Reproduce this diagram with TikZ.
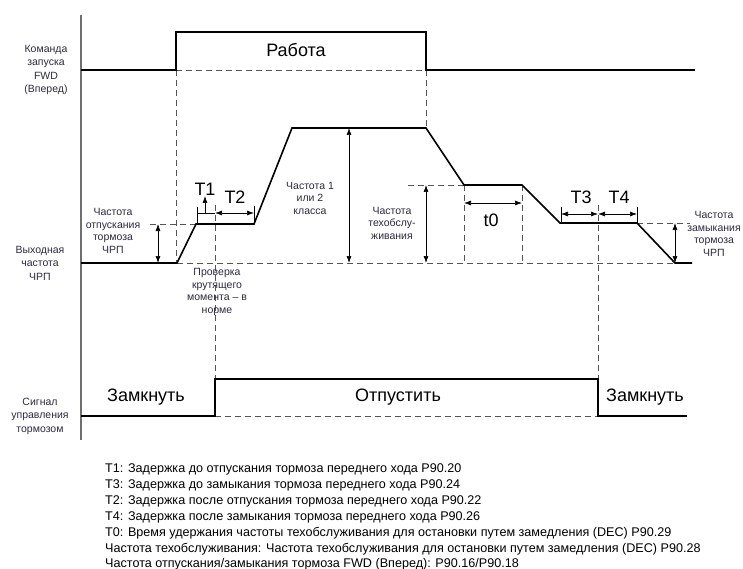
\documentclass[tikz,border=0pt]{standalone}
\usepackage{fontspec}
\setmainfont{Liberation Sans}
\usetikzlibrary{arrows.meta}
\definecolor{dashgray}{HTML}{555555}
\definecolor{axisgray}{HTML}{707070}
\definecolor{labelc}{HTML}{2E2A40}
\tikzset{
 sig/.style={line width=1.6pt, black, line join=miter},
 guide/.style={dashgray, line width=0.8pt, dash pattern=on 6pt off 4pt},
 axisline/.style={axisgray, line width=1.2pt},
 tick/.style={black, line width=0.7pt},
 dim/.style={black, line width=0.7pt, {Latex[length=7pt,width=5pt]}-{Latex[length=7pt,width=5pt]}},
 lbl/.style={font=\fontsize{10.5}{13.5}\selectfont, align=center, text=labelc, inner sep=0},
 slbl/.style={font=\fontsize{10.5}{12.5}\selectfont, align=center, text=labelc, inner sep=0},
 big/.style={font=\fontsize{18}{20}\selectfont, inner sep=0},
 note/.style={font=\fontsize{12.6}{14}\selectfont, anchor=base west, inner sep=0},
}
\begin{document}
\begin{tikzpicture}[x=1pt,y=-1pt]
\useasboundingbox (0,0) rectangle (743,569);
\fill[white] (0,0) rectangle (743,569);

% axis
\coordinate (axT) at (81,15);
\coordinate (axB) at (81,440);
\draw[axisline] (axT) -- (axB);

% guides (drawn first)
\draw[guide] (176,70) -- (426,70);
\draw[guide] (176,70) -- (176,263);
\draw[guide] (426,70) -- (426,128);
\draw[guide] (177,263) -- (675,263);
\draw[guide] (150,224) -- (196,224);
\draw[guide] (408,185) -- (464,185);
\draw[guide] (464,185) -- (464,263);
\draw[guide] (522,185) -- (522,263);
\draw[guide] (637,223) -- (690,223);
\draw[guide] (215,205) -- (215,379);
\draw[guide] (598,205) -- (598,379);
\draw[guide] (215,416) -- (598,416);

% FWD command
\draw[sig] (81,70) -- (176,70) -- (176,32) -- (426,32) -- (426,70) -- (695,70);
\node[big] (run) at (296,50) {Работа};

% output frequency
\draw[sig] (81,263) -- (177,263) -- (196,224) -- (254,224) -- (292,128) -- (426,128)
  -- (464,185) -- (522,185) -- (560,223) -- (637,223) -- (675,263) -- (692,263);

% T1 / T2
\draw[tick] (197,207) -- (197,224);
\draw[tick] (197,213) -- (215,213);
\draw[tick, -{Latex[length=7pt,width=5pt]}] (205,213) -- (205,196);
\draw[dim] (215,213) -- (254,213);
\draw[tick] (254,206) -- (254,224);
\node[big] (t1) at (205,189) {T1};
\node[big] (t2) at (235,197) {T2};

% T3 / T4
\draw[tick] (561,207) -- (561,223);
\draw[tick] (637,207) -- (637,223);
\draw[dim] (561,214) -- (598,214);
\draw[dim] (598,214) -- (637,214);
\node[big] (t3) at (581,197) {T3};
\node[big] (t4) at (619,197) {T4};

% t0
\draw[dim] (464,203) -- (522,203);
\node[big] (t0) at (491,220) {t0};

% vertical dimension arrows
\draw[dim] (158,224) -- (158,263);
\draw[dim] (349,128) -- (349,263);
\draw[dim] (426,185) -- (426,263);
\draw[dim] (675,223) -- (675,263);

% brake signal
\draw[sig] (81,416) -- (215,416) -- (215,379) -- (598,379) -- (598,416) -- (687,416);
\node[big] (cl1) at (146,397) {Замкнуть};
\node[big] (rel) at (398,397) {Отпустить};
\node[big] (cl2) at (645,397) {Замкнуть};

% left labels
\node[lbl] (lfwd) at (46,70) {Команда\\запуска\\FWD\\(Вперед)};
\node[lbl] (lout) at (40,263) {Выходная\\частота\\ЧРП};
\node[lbl] (lbrk) at (40,416) {Сигнал\\управления\\тормозом};

% in-diagram labels
\node[slbl] (frel) at (113,231) {Частота\\отпускания\\тормоза\\ЧРП};
\node[slbl] (f12) at (310,198) {Частота 1\\или 2\\класса};
\node[slbl] (fmnt) at (392,223) {Частота\\техобслу-\\живания};
\node[slbl] (fcl) at (714,234) {Частота\\замыкания\\тормоза\\ЧРП};
\node[slbl] (chk) at (217,292) {Проверка\\крутящего\\момента – в\\норме};

% notes
\node[note] (n1) at (105,472) {T1: Задержка до отпускания тормоза переднего хода P90.20};
\node[note] (n2) at (105,488) {T3: Задержка до замыкания тормоза переднего хода P90.24};
\node[note] (n3) at (105,504) {T2: Задержка после отпускания тормоза переднего хода P90.22};
\node[note] (n4) at (105,520) {T4: Задержка после замыкания тормоза переднего хода P90.26};
\node[note] (n5) at (105,536) {T0: Время удержания частоты техобслуживания для остановки путем замедления (DEC) P90.29};
\node[note] (n6) at (105,552) {Частота техобслуживания: Частота техобслуживания для остановки путем замедления (DEC) P90.28};
\node[note] (n7) at (105,567) {Частота отпускания/замыкания тормоза FWD (Вперед): P90.16/P90.18};
\end{tikzpicture}
\end{document}
